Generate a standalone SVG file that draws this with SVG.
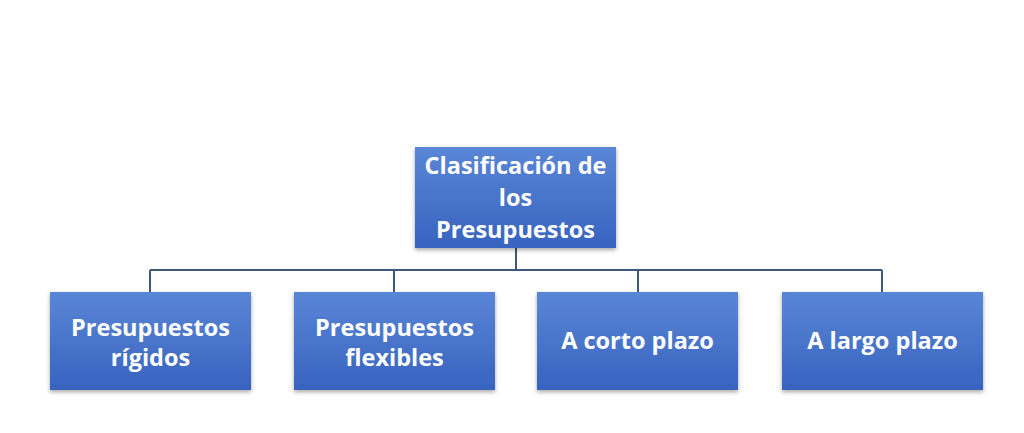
<svg xmlns="http://www.w3.org/2000/svg" width="1024" height="433" viewBox="0 0 1024 433">
<defs>
<linearGradient id="g" x1="0" y1="0" x2="0" y2="1">
<stop offset="0" stop-color="#5a86d6"/>
<stop offset="1" stop-color="#3763bf"/>
</linearGradient>
<filter id="sh" x="-10%" y="-10%" width="120%" height="130%">
<feDropShadow dx="0" dy="2" stdDeviation="2" flood-color="#000" flood-opacity="0.35"/>
</filter>
</defs>
<style>
.box{fill:url(#g);filter:url(#sh)}
.t{font-family:"Open Sans",Lato,sans-serif;font-weight:bold;font-size:23.5px;fill:#fff;text-anchor:middle}
.c{stroke:#3e5878;stroke-width:2;fill:none}
</style>
<rect width="1024" height="433" fill="#fff"/>
<g id="connectors">
<path class="c" d="M516 248V270M150 270H882M150 270V292M394 270V292M638 270V292M882 270V292"/>
</g>
<g id="root">
<rect class="box" x="415" y="147" width="201" height="101"/>
<text class="t" x="515.5" y="174">Clasificación de</text>
<text class="t" x="515.5" y="206">los</text>
<text class="t" x="515.5" y="238">Presupuestos</text>
</g>
<g id="rigidos">
<rect class="box" x="50" y="292" width="201" height="98"/>
<text class="t" x="150.5" y="336">Presupuestos</text>
<text class="t" x="150.5" y="366">rígidos</text>
</g>
<g id="flexibles">
<rect class="box" x="294" y="292" width="201" height="98"/>
<text class="t" x="394.5" y="336">Presupuestos</text>
<text class="t" x="394.5" y="366">flexibles</text>
</g>
<g id="corto">
<rect class="box" x="537" y="292" width="201" height="98"/>
<text class="t" x="637.5" y="349">A corto plazo</text>
</g>
<g id="largo">
<rect class="box" x="782" y="292" width="201" height="98"/>
<text class="t" x="882.5" y="349">A largo plazo</text>
</g>
</svg>
